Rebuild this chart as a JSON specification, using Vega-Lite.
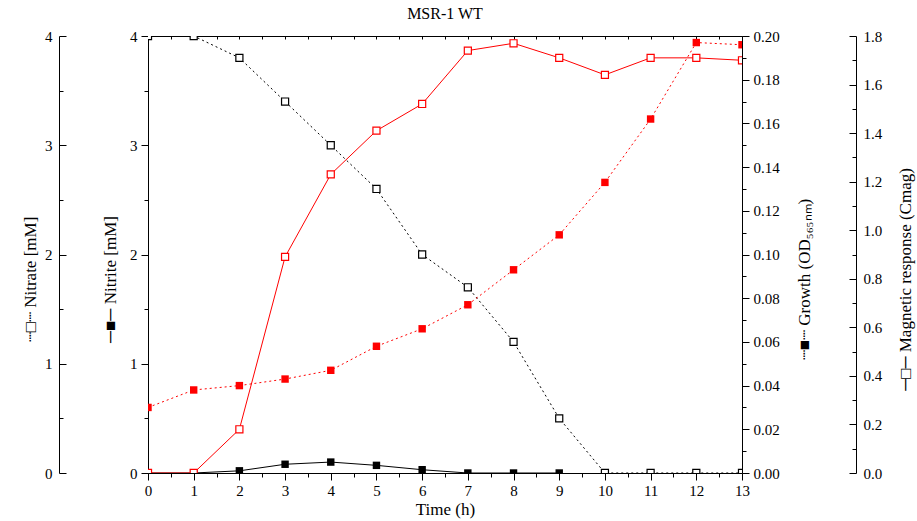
{
  "$schema": "https://vega.github.io/schema/vega-lite/v6.json",
  "width": 594,
  "height": 437,
  "autosize": {"type": "none"},
  "padding": {"left": 148, "top": 36, "right": 175, "bottom": 48},
  "background": "white",
  "title": {"text": "MSR-1 WT", "font": "Liberation Serif", "fontSize": 16, "fontWeight": "normal", "color": "black", "offset": 7},
  "config": {
    "view": {"stroke": null},
    "axis": {
      "labelFont": "Liberation Serif", "labelFontSize": 15, "labelColor": "black",
      "titleFont": "Liberation Serif", "titleFontSize": 17, "titleFontWeight": "normal", "titleColor": "black",
      "domainColor": "black", "domainWidth": 1, "tickColor": "black", "tickWidth": 1,
      "grid": false, "labelFlush": false, "labelOverlap": false
    }
  },
  "data": {"values": [
    {"t": 0, "nitrate": 4.0, "nitrite": 0.0, "growth": 0.030, "magnetic": 0.0},
    {"t": 1, "nitrate": 4.0, "nitrite": 0.0, "growth": 0.038, "magnetic": 0.0},
    {"t": 2, "nitrate": 3.8, "nitrite": 0.02, "growth": 0.040, "magnetic": 0.18},
    {"t": 3, "nitrate": 3.4, "nitrite": 0.08, "growth": 0.043, "magnetic": 0.89},
    {"t": 4, "nitrate": 3.0, "nitrite": 0.10, "growth": 0.047, "magnetic": 1.23},
    {"t": 5, "nitrate": 2.6, "nitrite": 0.07, "growth": 0.058, "magnetic": 1.41},
    {"t": 6, "nitrate": 2.0, "nitrite": 0.03, "growth": 0.066, "magnetic": 1.52},
    {"t": 7, "nitrate": 1.7, "nitrite": 0.0, "growth": 0.077, "magnetic": 1.74},
    {"t": 8, "nitrate": 1.2, "nitrite": 0.0, "growth": 0.093, "magnetic": 1.77},
    {"t": 9, "nitrate": 0.5, "nitrite": 0.0, "growth": 0.109, "magnetic": 1.71},
    {"t": 10, "nitrate": 0.0, "nitrite": null, "growth": 0.133, "magnetic": 1.64},
    {"t": 11, "nitrate": 0.0, "nitrite": null, "growth": 0.162, "magnetic": 1.71},
    {"t": 12, "nitrate": 0.0, "nitrite": null, "growth": 0.197, "magnetic": 1.71},
    {"t": 13, "nitrate": 0.0, "nitrite": null, "growth": 0.196, "magnetic": 1.70}
  ]},
  "layer": [
    {
      "layer": [
        {"mark": {"type": "line", "color": "black", "strokeWidth": 1, "strokeDash": [2, 3], "clip": true}},
        {"mark": {"type": "point", "shape": "square", "size": 50, "filled": true, "fill": "white", "stroke": "black", "strokeWidth": 1.2, "opacity": 1, "clip": true}}
      ],
      "encoding": {
        "x": {"field": "t", "type": "quantitative", "scale": {"domain": [0, 13], "nice": false, "zero": false},
              "axis": {"orient": "bottom", "values": [0,1,2,3,4,5,6,7,8,9,10,11,12,13], "tickSize": 7, "labelPadding": 3, "title": "Time (h)", "titlePadding": 3}},
        "y": {"field": "nitrate", "type": "quantitative", "scale": {"domain": [0, 4], "nice": false},
              "axis": {"orient": "left", "offset": 89, "values": [0,1,2,3,4], "tickSize": -7, "labelPadding": 14,
                       "title": "┈□┈ Nitrate [mM]", "titleAngle": -90, "titleX": -29, "titleY": 243, "titleAlign": "center", "titleBaseline": "middle"}}
      }
    },
    {
      "mark": {"type": "point", "opacity": 0},
      "encoding": {
        "x": {"field": "t", "type": "quantitative", "scale": {"domain": [0, 13], "nice": false, "zero": false},
              "axis": {"orient": "bottom", "values": [0.5,1.5,2.5,3.5,4.5,5.5,6.5,7.5,8.5,9.5,10.5,11.5,12.5], "tickSize": 4, "labels": false, "domain": false, "title": null}},
        "y": {"field": "nitrate", "type": "quantitative", "scale": {"domain": [0, 4], "nice": false},
              "axis": {"orient": "left", "offset": 89, "values": [0.5,1.5,2.5,3.5], "tickSize": -4, "labels": false, "domain": false, "title": null}}
      }
    },
    {
      "layer": [
        {"mark": {"type": "line", "color": "black", "strokeWidth": 1, "clip": true}},
        {"mark": {"type": "point", "shape": "square", "size": 55, "filled": true, "color": "black", "opacity": 1, "clip": true}}
      ],
      "encoding": {
        "x": {"field": "t", "type": "quantitative", "scale": {"domain": [0, 13], "nice": false, "zero": false},
              "axis": {"orient": "top", "values": [0,0.5,1,1.5,2,2.5,3,3.5,4,4.5,5,5.5,6,6.5,7,7.5,8,8.5,9,9.5,10,10.5,11,11.5,12,12.5,13], "tickSize": -3, "labels": false, "title": null}},
        "y": {"field": "nitrite", "type": "quantitative", "scale": {"domain": [0, 4], "nice": false},
              "axis": {"orient": "left", "offset": 0, "values": [0,1,2,3,4], "tickSize": 7, "labelPadding": 4,
                       "title": "─■─ Nitrite [mM]", "titleAngle": -90, "titleX": -38, "titleY": 243, "titleAlign": "center", "titleBaseline": "middle"}}
      }
    },
    {
      "mark": {"type": "point", "opacity": 0},
      "encoding": {
        "x": {"field": "t", "type": "quantitative", "scale": {"domain": [0, 13], "nice": false, "zero": false}, "axis": null},
        "y": {"field": "nitrate", "type": "quantitative", "scale": {"domain": [0, 4], "nice": false},
              "axis": {"orient": "left", "offset": 0, "values": [0.5,1.5,2.5,3.5], "tickSize": 4, "labels": false, "domain": false, "title": null}}
      }
    },
    {
      "layer": [
        {"mark": {"type": "line", "color": "#ff0000", "strokeWidth": 1, "strokeDash": [2, 3], "clip": true}},
        {"mark": {"type": "point", "shape": "square", "size": 55, "filled": true, "color": "#ff0000", "opacity": 1, "clip": true}}
      ],
      "encoding": {
        "x": {"field": "t", "type": "quantitative", "scale": {"domain": [0, 13], "nice": false, "zero": false}, "axis": null},
        "y": {"field": "growth", "type": "quantitative", "scale": {"domain": [0, 0.2], "nice": false},
              "axis": {"orient": "right", "offset": 0, "values": [0,0.02,0.04,0.06,0.08,0.1,0.12,0.14,0.16,0.18,0.2], "format": ".2f", "tickSize": 7, "labelPadding": 4,
                       "title": "┈■┈ Growth (OD₅₆₅ₙₘ)", "titleAngle": -90, "titleX": 62, "titleY": 243, "titleAlign": "center", "titleBaseline": "middle"}}
      }
    },
    {
      "mark": {"type": "point", "opacity": 0},
      "encoding": {
        "x": {"field": "t", "type": "quantitative", "scale": {"domain": [0, 13], "nice": false, "zero": false}, "axis": null},
        "y": {"field": "growth", "type": "quantitative", "scale": {"domain": [0, 0.2], "nice": false},
              "axis": {"orient": "right", "offset": 0, "values": [0.01,0.03,0.05,0.07,0.09,0.11,0.13,0.15,0.17,0.19], "tickSize": 4, "labels": false, "domain": false, "title": null}}
      }
    },
    {
      "layer": [
        {"mark": {"type": "line", "color": "#ff0000", "strokeWidth": 1, "clip": true}},
        {"mark": {"type": "point", "shape": "square", "size": 50, "filled": true, "fill": "white", "stroke": "#ff0000", "strokeWidth": 1.2, "opacity": 1, "clip": true}}
      ],
      "encoding": {
        "x": {"field": "t", "type": "quantitative", "scale": {"domain": [0, 13], "nice": false, "zero": false}, "axis": null},
        "y": {"field": "magnetic", "type": "quantitative", "scale": {"domain": [0, 1.8], "nice": false},
              "axis": {"orient": "right", "offset": 114, "values": [0,0.2,0.4,0.6,0.8,1.0,1.2,1.4,1.6,1.8], "format": ".1f", "tickSize": -7, "labelPadding": 14,
                       "title": "─□─ Magnetic response (Cmag)", "titleAngle": -90, "titleX": 49, "titleY": 243, "titleAlign": "center", "titleBaseline": "middle"}}
      }
    },
    {
      "mark": {"type": "point", "opacity": 0},
      "encoding": {
        "x": {"field": "t", "type": "quantitative", "scale": {"domain": [0, 13], "nice": false, "zero": false}, "axis": null},
        "y": {"field": "magnetic", "type": "quantitative", "scale": {"domain": [0, 1.8], "nice": false},
              "axis": {"orient": "right", "offset": 114, "values": [0.1,0.3,0.5,0.7,0.9,1.1,1.3,1.5,1.7], "tickSize": -4, "labels": false, "domain": false, "title": null}}
      }
    }
  ],
  "resolve": {"scale": {"x": "independent", "y": "independent"}}
}
